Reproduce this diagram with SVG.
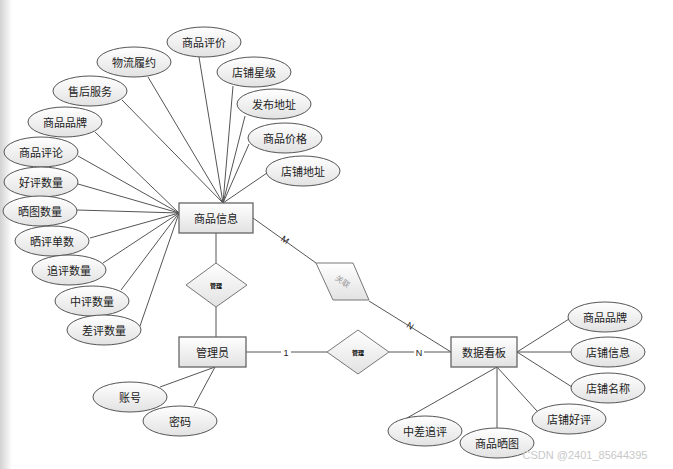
<svg xmlns="http://www.w3.org/2000/svg" width="673" height="469" viewBox="0 0 673 469">
<defs>
<linearGradient id="gf" x1="0" y1="0" x2="0" y2="1">
<stop offset="0" stop-color="#ffffff"/>
<stop offset="1" stop-color="#e2e2e2"/>
</linearGradient>
<linearGradient id="edge" x1="0" y1="0" x2="1" y2="0">
<stop offset="0" stop-color="#d2d2d2"/>
<stop offset="1" stop-color="#ffffff"/>
</linearGradient>
<style>
.e{fill:url(#gf);stroke:#555;stroke-width:1}
.r{fill:url(#gf);stroke:#666;stroke-width:1.3}
.d{fill:url(#gf);stroke:#777;stroke-width:1}
.t{font-family:"Noto Sans CJK SC","Noto Sans",sans-serif;font-size:11px;fill:#222;text-anchor:middle;dominant-baseline:central}
.s{font-family:"Noto Sans CJK SC","Noto Sans",sans-serif;font-size:6px;font-weight:bold;fill:#000;text-anchor:middle;dominant-baseline:central}
.l{font-family:"Liberation Sans",sans-serif;font-size:9px;fill:#222;text-anchor:middle;dominant-baseline:central}
#conn line{stroke:#555;stroke-width:1}
</style>
</defs>
<rect x="0" y="0" width="673" height="469" fill="#fff"/>
<rect x="0" y="0" width="12" height="469" fill="url(#edge)"/>
<g id="conn">
<line x1="148" y1="77" x2="223" y2="203"/>
<line x1="199" y1="57" x2="223" y2="203"/>
<line x1="233" y1="86" x2="223" y2="203"/>
<line x1="245" y1="116" x2="223" y2="203"/>
<line x1="249" y1="144" x2="223" y2="203"/>
<line x1="267" y1="173" x2="223" y2="203"/>
<line x1="122" y1="100" x2="223" y2="203"/>
<line x1="95" y1="132" x2="179" y2="213"/>
<line x1="78" y1="156" x2="179" y2="213"/>
<line x1="78" y1="184" x2="179" y2="213"/>
<line x1="77" y1="210" x2="179" y2="213"/>
<line x1="90" y1="238" x2="179" y2="213"/>
<line x1="103" y1="263" x2="179" y2="213"/>
<line x1="121" y1="290" x2="179" y2="213"/>
<line x1="140" y1="326" x2="179" y2="213"/>
<line x1="216" y1="233" x2="216" y2="263"/>
<line x1="216" y1="307" x2="216" y2="337"/>
<line x1="246" y1="352" x2="327" y2="352"/>
<line x1="389" y1="352" x2="451" y2="352"/>
<line x1="253" y1="218" x2="316" y2="263"/>
<line x1="369" y1="301" x2="451" y2="352"/>
<line x1="517" y1="352" x2="569" y2="319"/>
<line x1="517" y1="352" x2="571" y2="352"/>
<line x1="517" y1="352" x2="572" y2="387"/>
<line x1="497" y1="367" x2="407" y2="418"/>
<line x1="497" y1="367" x2="497" y2="429"/>
<line x1="497" y1="367" x2="537" y2="411"/>
<line x1="215" y1="367" x2="160" y2="387"/>
<line x1="215" y1="367" x2="194" y2="406"/>
<rect x="281" y="347" width="10" height="12" fill="#fff"/>
<text class="l" x="286" y="353">1</text>
<rect x="414" y="347" width="10" height="12" fill="#fff"/>
<text class="l" x="419" y="353">N</text>
<text class="l" x="285" y="240" transform="rotate(35 285 240)">M</text>
<text class="l" x="410" y="326" transform="rotate(32 410 326)">N</text>
</g>
<g id="n-spxx"><rect class="r" x="179" y="203" width="74" height="30"/><text class="t" x="216" y="218">商品信息</text></g>
<g id="n-gly"><rect class="r" x="179" y="337" width="67" height="30"/><text class="t" x="212.5" y="352">管理员</text></g>
<g id="n-sjkb"><rect class="r" x="451" y="337" width="66" height="30"/><text class="t" x="484" y="352">数据看板</text></g>
<g id="n-gl1"><polygon class="d" points="216,263 247,285 216,307 186,285"/><text class="s" x="216" y="285">管理</text></g>
<g id="n-gl2"><polygon class="d" points="358,330 389,352 358,374 327,352"/><text class="s" x="358" y="352">管理</text></g>
<g id="n-gly2"><polygon class="d" points="316,263 353,263 369,300 333,300"/><text class="t" x="343" y="281" style="font-size:8px;fill:#999" transform="rotate(35 343 281)">关联</text></g>
<g id="a-wllx"><ellipse class="e" cx="134" cy="62" rx="37" ry="15"/><text class="t" x="134" y="62">物流履约</text></g>
<g id="a-sppj"><ellipse class="e" cx="204" cy="42" rx="37" ry="15"/><text class="t" x="204" y="42">商品评价</text></g>
<g id="a-dpxj"><ellipse class="e" cx="254" cy="72" rx="37" ry="15"/><text class="t" x="254" y="72">店铺星级</text></g>
<g id="a-shfw"><ellipse class="e" cx="90" cy="91" rx="37" ry="15"/><text class="t" x="90" y="91">售后服务</text></g>
<g id="a-fbdz"><ellipse class="e" cx="274" cy="104" rx="37" ry="15"/><text class="t" x="274" y="104">发布地址</text></g>
<g id="a-sppp"><ellipse class="e" cx="65" cy="122" rx="37" ry="15"/><text class="t" x="65" y="122">商品品牌</text></g>
<g id="a-spjg"><ellipse class="e" cx="285" cy="138" rx="37" ry="15"/><text class="t" x="285" y="138">商品价格</text></g>
<g id="a-sppl"><ellipse class="e" cx="41" cy="152" rx="37" ry="15"/><text class="t" x="41" y="152">商品评论</text></g>
<g id="a-dpdz"><ellipse class="e" cx="303" cy="171" rx="37" ry="15"/><text class="t" x="303" y="171">店铺地址</text></g>
<g id="a-hpsl"><ellipse class="e" cx="41" cy="182" rx="37" ry="15"/><text class="t" x="41" y="182">好评数量</text></g>
<g id="a-stsl"><ellipse class="e" cx="40" cy="211" rx="37" ry="15"/><text class="t" x="40" y="211">晒图数量</text></g>
<g id="a-spds"><ellipse class="e" cx="52" cy="241" rx="37" ry="15"/><text class="t" x="52" y="241">晒评单数</text></g>
<g id="a-zpsl"><ellipse class="e" cx="69" cy="270" rx="37" ry="15"/><text class="t" x="69" y="270">追评数量</text></g>
<g id="a-zhpsl"><ellipse class="e" cx="92" cy="301" rx="37" ry="15"/><text class="t" x="92" y="301">中评数量</text></g>
<g id="a-cpsl"><ellipse class="e" cx="104" cy="330" rx="37" ry="15"/><text class="t" x="104" y="330">差评数量</text></g>
<g id="a-zh"><ellipse class="e" cx="130" cy="397" rx="37" ry="15"/><text class="t" x="130" y="397">账号</text></g>
<g id="a-mm"><ellipse class="e" cx="180" cy="421" rx="37" ry="15"/><text class="t" x="180" y="421">密码</text></g>
<g id="a-sppp2"><ellipse class="e" cx="605" cy="317" rx="37" ry="15"/><text class="t" x="605" y="317">商品品牌</text></g>
<g id="a-dpxx"><ellipse class="e" cx="608" cy="352" rx="37" ry="15"/><text class="t" x="608" y="352">店铺信息</text></g>
<g id="a-dpmc"><ellipse class="e" cx="608" cy="388" rx="37" ry="15"/><text class="t" x="608" y="388">店铺名称</text></g>
<g id="a-dphp"><ellipse class="e" cx="569" cy="419" rx="37" ry="15"/><text class="t" x="569" y="419">店铺好评</text></g>
<g id="a-spst"><ellipse class="e" cx="497" cy="443" rx="37" ry="15"/><text class="t" x="497" y="443">商品晒图</text></g>
<g id="a-zczp"><ellipse class="e" cx="425" cy="431" rx="37" ry="15"/><text class="t" x="425" y="431">中差追评</text></g>
<text x="585" y="455" style="font-family:'Liberation Sans',sans-serif;font-size:11px;fill:#c8c8c8;text-anchor:middle;dominant-baseline:central">CSDN @2401_85644395</text>
</svg>
